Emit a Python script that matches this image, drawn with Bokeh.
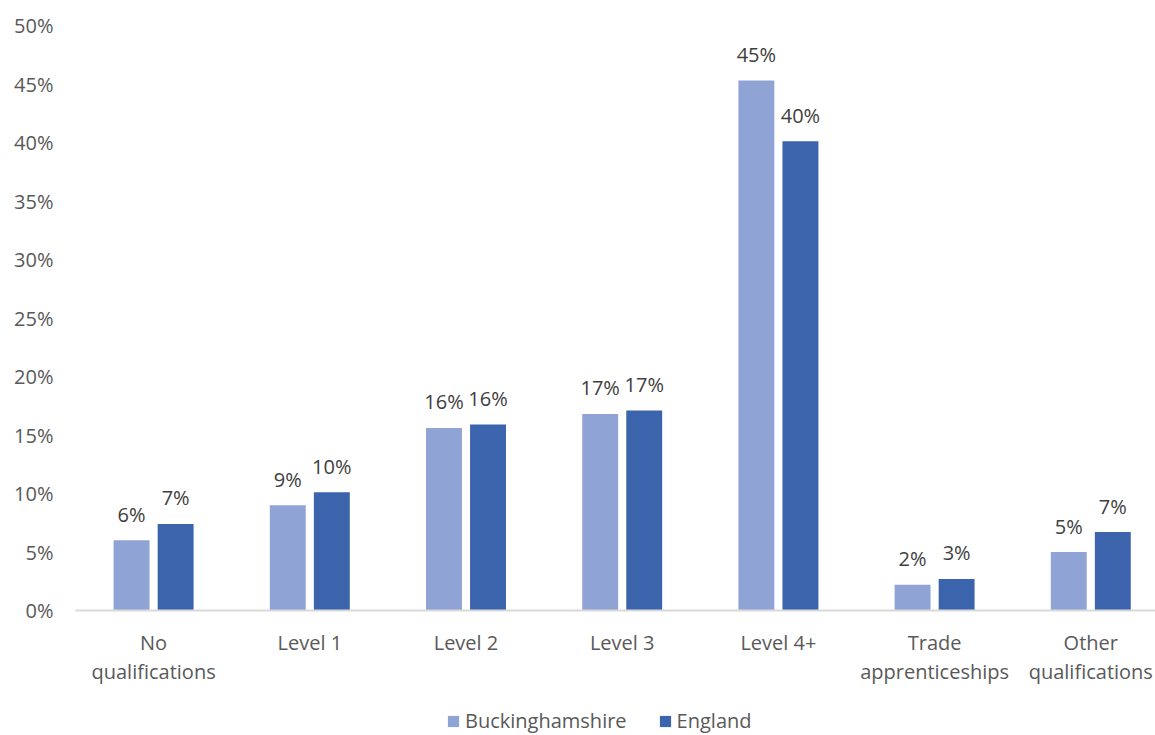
from bokeh.plotting import figure
from bokeh.layouts import column
from bokeh.models import Range1d, FixedTicker, ColumnDataSource, Legend, LegendItem, PrintfTickFormatter
from bokeh.transform import dodge
from bokeh.core.properties import value
from bokeh.embed import file_html
from bokeh.resources import INLINE

categories = ["No\nqualifications", "Level 1", "Level 2", "Level 3", "Level 4+",
              "Trade\napprenticeships", "Other\nqualifications"]
series_names = ["Buckinghamshire", "England"]
bucks = [6.0, 9.0, 15.6, 16.8, 45.3, 2.2, 5.0]
england = [7.4, 10.1, 15.9, 17.1, 40.1, 2.7, 6.7]
bucks_labels = ["6%", "9%", "16%", "17%", "45%", "2%", "5%"]
england_labels = ["7%", "10%", "16%", "17%", "40%", "3%", "7%"]
y_ticks = [0, 5, 10, 15, 20, 25, 30, 35, 40, 45, 50]

FONT = "Open Sans"
C_B = "#8FA3D4"
C_E = "#3B64AD"

idx = list(range(len(categories)))
src = ColumnDataSource(dict(x=idx, bucks=bucks, england=england,
                            bl=bucks_labels, el=england_labels))

p = figure(width=1155, height=700, output_backend="svg", toolbar_location=None,
           x_range=Range1d(-0.5, -0.5 + 1080 / 156.2), y_range=Range1d(0, 50),
           min_border_left=75, min_border_right=0, min_border_top=25, min_border_bottom=90)
p.outline_line_color = None
p.xgrid.visible = False
p.ygrid.visible = False
p.background_fill_color = "white"
p.border_fill_color = "white"

rb = p.vbar(x=dodge("x", -0.141), top="bucks", width=0.23, source=src, fill_color=C_B, line_color=None)
re = p.vbar(x=dodge("x", 0.141), top="england", width=0.23, source=src, fill_color=C_E, line_color=None)

for off, col, ycol in ((-0.141, "bl", "bucks"), (0.141, "el", "england")):
    p.text(x=dodge("x", off), y=ycol, text=col, source=src,
           text_align="center", text_baseline="middle", y_offset=-26,
           text_font=value(FONT), text_font_size="20px", text_color="#404040")

# x axis
xa = p.xaxis[0]
xa.ticker = FixedTicker(ticks=idx)
xa.major_label_overrides = {i: c for i, c in zip(idx, categories)}
xa.axis_line_color = "#D9D9D9"
xa.axis_line_width = 2
xa.major_tick_line_color = None
xa.minor_tick_line_color = None
xa.major_tick_out = 0
xa.major_label_standoff = 18
xa.major_label_text_font = FONT
xa.major_label_text_font_size = "20px"
xa.major_label_text_line_height = 1.1
xa.major_label_text_color = "#595959"

ya = p.yaxis[0]
ya.ticker = FixedTicker(ticks=y_ticks)
ya.formatter = PrintfTickFormatter(format="%d%%")
ya.axis_line_color = None
ya.major_tick_line_color = None
ya.minor_tick_line_color = None
ya.major_tick_out = 0
ya.major_label_standoff = 22
ya.major_label_text_font = FONT
ya.major_label_text_font_size = "20px"
ya.major_label_text_color = "#595959"

# legend strip
lg = figure(width=1155, height=35, output_backend="svg", toolbar_location=None,
            x_axis_type=None, y_axis_type=None, x_range=Range1d(0, 1), y_range=Range1d(0, 1),
            min_border=0)
lg.outline_line_color = None
lg.xgrid.visible = False
lg.ygrid.visible = False
lb = lg.vbar(x=[0.5], bottom=[0], top=[0], width=0.0, fill_color=C_B, line_color=None)
le = lg.vbar(x=[0.5], bottom=[0], top=[0], width=0.0, fill_color=C_E, line_color=None)
legend = Legend(items=[LegendItem(label=series_names[0], renderers=[lb]),
                       LegendItem(label=series_names[1], renderers=[le])],
                orientation="horizontal", location=(371, 1),
                padding=0, margin=0, spacing=31, label_standoff=5,
                glyph_width=14, glyph_height=14,
                label_text_font=FONT, label_text_font_size="20px", label_text_color="#595959",
                background_fill_alpha=0, border_line_color=None)
lg.add_layout(legend, "center")

layout = column(p, lg, spacing=0)
open("out.html", "w").write(file_html(layout, INLINE))
